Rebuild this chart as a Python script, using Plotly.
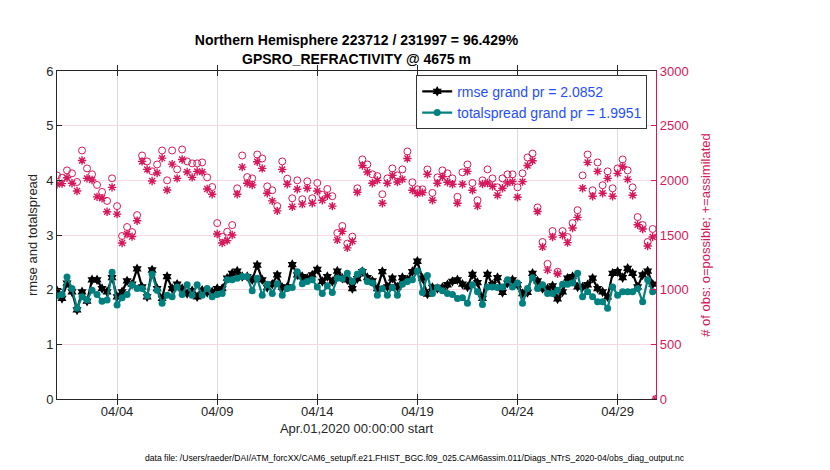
import pandas as pd
import plotly.graph_objects as go

# 6-hourly bins starting Apr 1 2020, plus the closing bin at the end of the month
times = list(pd.date_range("2020-04-01", periods=120, freq="6h")) + [pd.Timestamp("2020-04-30 22:00")]

rmse = [1.98, 1.84, 2.12, 1.96, 1.63, 1.96, 1.79, 2.18, 2.18, 2.02, 1.96,
        2.22, 1.87, 1.96, 2.16, 2.10, 2.38, 2.05, 1.87, 2.36, 2.02,
        1.84, 2.24, 2.02, 2.10, 2.02, 1.93, 1.98, 1.87, 1.99, 1.95,
        1.96, 2.02, 2.02, 2.21, 2.30, 2.34, 2.24, 2.24, 2.18, 2.45,
        2.18, 2.04, 2.10, 2.27, 2.04, 2.05, 2.46, 2.27, 2.24, 2.21,
        2.27, 2.37, 2.15, 2.24, 2.15, 2.34, 2.21, 2.18, 2.02, 2.20,
        2.33, 2.22, 2.16, 2.02, 2.33, 2.05, 2.21, 2.05, 2.22, 2.18,
        2.33, 2.52, 2.21, 1.92, 2.04, 2.02, 2.04, 2.09, 2.15, 2.18,
        2.10, 2.05, 2.28, 2.13, 1.84, 2.28, 2.09, 2.22, 1.95, 2.12,
        2.18, 2.09, 1.93, 1.95, 2.30, 2.16, 2.02, 2.02, 2.07, 1.83,
        1.96, 2.21, 2.24, 2.05, 2.05, 2.09, 2.21, 2.02, 1.96, 1.87,
        2.30, 2.33, 2.22, 2.39, 2.30, 2.05, 2.27, 2.34, 2.10]

spread = [1.89, 1.91, 2.23, 2.02, 1.66, 1.87, 1.81, 1.99, 1.91, 1.79, 1.81,
          2.32, 1.72, 1.85, 1.91, 2.09, 2.02, 2.02, 1.89, 2.28, 1.99,
          1.75, 1.90, 1.87, 2.05, 1.91, 2.09, 1.90, 2.09, 1.90, 2.02,
          1.87, 1.91, 1.93, 2.18, 2.18, 2.21, 2.24, 2.24, 1.98, 2.21,
          1.90, 2.10, 1.93, 2.11, 1.90, 2.02, 2.04, 2.33, 2.11, 2.15,
          2.18, 2.05, 1.93, 2.07, 1.95, 2.21, 2.20, 2.30, 2.15, 2.28,
          2.34, 2.15, 2.12, 1.90, 2.02, 1.90, 2.04, 1.90, 2.10, 2.15,
          2.18, 2.34, 1.95, 2.26, 1.93, 2.04, 1.98, 1.93, 1.91, 1.84,
          1.85, 1.75, 2.09, 1.96, 1.73, 2.05, 2.05, 2.04, 2.05, 2.18,
          2.05, 2.12, 1.75, 2.02, 2.22, 2.02, 2.09, 1.93, 1.93, 1.99,
          2.10, 2.10, 2.12, 2.30, 1.87, 1.96, 1.87, 1.78, 1.78, 1.66,
          2.05, 1.90, 1.96, 1.96, 1.96, 2.02, 1.78, 2.18, 1.96]

nposs = [2045, 2024, 2091, 2064, 1985, 2273, 2109, 2055, 1958, 1894, 1812,
         2018, 1764, 1491, 1573, 1527, 1682, 2227, 2173, 2082, 2145,
         2273, 2000, 2273, 2100, 2282, 2173, 2155, 2155, 2164, 2027,
         1939, 1609, 1485, 1530, 1591, 1927, 2227, 2030, 2018, 2236,
         2200, 1945, 1909, 1764, 2173, 2015, 1836, 2000, 1827, 1991,
         1836, 1976, 1867, 1921, 1855, 1518, 1582, 1421, 1485, 1927,
         2191, 2145, 2055, 2039, 1873, 2018, 2109, 2045, 2100, 2264,
         1982, 1918, 1918, 2100, 1885, 2027, 2091, 2064, 2018, 1849,
         2073, 2145, 1976, 1818, 2000, 2100, 2018, 1936, 2018, 2055,
         2055, 1936, 2064, 2209, 2245, 1752, 1436, 1236, 1536, 1164,
         1536, 1482, 1609, 1727, 2045, 2236, 1909, 2164, 1955, 2082,
         1927, 2109, 2191, 2091, 1936, 1664, 1591, 1436, 1555, 0]

nused = [1964, 1970, 2024, 1973, 1903, 2182, 2018, 2003, 1849, 1836, 1712,
         1936, 1691, 1427, 1509, 1485, 1630, 2173, 2100, 1994, 2067,
         2203, 1912, 2148, 2018, 2191, 2076, 2027, 2082, 2076, 1921,
         1873, 1509, 1427, 1449, 1500, 1873, 2121, 1973, 1958, 2170,
         2109, 1882, 1812, 1721, 2100, 1964, 1758, 1918, 1782, 1927,
         1791, 1903, 1818, 1858, 1764, 1455, 1533, 1382, 1442, 1891,
         2136, 2076, 1973, 2000, 1791, 1973, 2045, 1985, 2009, 2200,
         1909, 1879, 1888, 2055, 1818, 1973, 2033, 1982, 1964, 1791,
         1964, 2082, 1909, 1764, 1967, 1976, 1945, 1864, 1927, 1976,
         1988, 1845, 1988, 2136, 2179, 1715, 1391, 1179, 1482, 1146,
         1497, 1430, 1564, 1661, 1927, 2164, 1855, 2082, 1882, 2018,
         1855, 2064, 2127, 2009, 1864, 1594, 1555, 1400, 1482, 0]

tick_dates = ["2020-04-04", "2020-04-09", "2020-04-14", "2020-04-19", "2020-04-24", "2020-04-29"]
tick_text = ["04/04", "04/09", "04/14", "04/19", "04/24", "04/29"]

crimson = "#D6175A"
teal = "#00807F"
dark = "#262626"
font = "Liberation Sans"

fig = go.Figure()

# obs counts on the right axis
fig.add_trace(go.Scatter(x=times, y=nposs, yaxis="y2", mode="markers", showlegend=False,
                         marker=dict(symbol="circle-open", size=7, color=crimson, line=dict(width=1))))
fig.add_trace(go.Scatter(x=times, y=nused, yaxis="y2", mode="markers", showlegend=False,
                         marker=dict(symbol="asterisk-open", size=7, color=crimson, line=dict(width=1.4, color=crimson))))

fig.add_trace(go.Scatter(x=times[:120], y=rmse, mode="lines+markers", name="rmse grand pr = 2.0852",
                         line=dict(color="black", width=2.2),
                         marker=dict(symbol="hexagram", size=8, color="black")))
fig.add_trace(go.Scatter(x=times[:120], y=spread, mode="lines+markers", name="totalspread grand pr = 1.9951",
                         line=dict(color=teal, width=2.2),
                         marker=dict(symbol="circle", size=7, color=teal)))

# page body adds an 8px offset, so the figure is drawn 8px smaller
fig.update_layout(
    width=822, height=462,
    margin=dict(l=49, r=174, t=63, b=71, autoexpand=False),
    paper_bgcolor="white", plot_bgcolor="white",
    font=dict(family=font, size=13, color=dark),
    title=dict(text="<b>Northern Hemisphere 223712 / 231997 = 96.429%<br>GPSRO_REFRACTIVITY @ 4675 m</b>",
               xref="paper", x=0.5, xanchor="center", yref="container", y=0.919, yanchor="middle",
               font=dict(size=14, color="black")),
    xaxis=dict(range=["2020-04-01 00:00", "2020-04-30 22:00"], automargin=False,
               tickvals=tick_dates, ticktext=tick_text, tickfont=dict(size=13),
               showline=True, linecolor=dark, linewidth=1, mirror="allticks",
               ticks="inside", ticklen=5, tickcolor=dark,
               showgrid=True, gridcolor="#DCDCDC", gridwidth=1, zeroline=False,
               title=dict(text="Apr.01,2020 00:00:00 start", standoff=6, font=dict(size=13))),
    yaxis=dict(range=[0, 6], dtick=1, showline=True, linecolor=dark, linewidth=1, automargin=False,
               ticks="inside", ticklen=5, tickcolor=dark, showgrid=False, zeroline=False,
               title=dict(text="rmse and totalspread", standoff=5, font=dict(size=13))),
    yaxis2=dict(range=[0, 3000], dtick=500, overlaying="y", side="right", automargin=False,
                showline=True, linecolor=crimson, linewidth=1.2,
                ticks="inside", ticklen=5, tickcolor=crimson,
                tickfont=dict(color=crimson), showgrid=True, gridcolor="#F8D8E2", zeroline=False,
                title=dict(text="# of obs: o=possible; +=assimilated", font=dict(color=crimson, size=13), standoff=13)),
    legend=dict(x=0.6, y=0.988, xanchor="left", yanchor="top", bgcolor="white",
                bordercolor="black", borderwidth=0.8, font=dict(color="#1F4FFF", size=14),
                tracegroupgap=0, itemwidth=30),
)

fig.add_annotation(text="data file: /Users/raeder/DAI/ATM_forcXX/CAM6_setup/f.e21.FHIST_BGC.f09_025.CAM6assim.011/Diags_NTrS_2020-04/obs_diag_output.nc",
                   xref="paper", yref="paper", x=0.598, y=-0.18, xanchor="center", yanchor="middle",
                   showarrow=False, font=dict(size=8.6, color="black"))

fig.write_html("out.html")
